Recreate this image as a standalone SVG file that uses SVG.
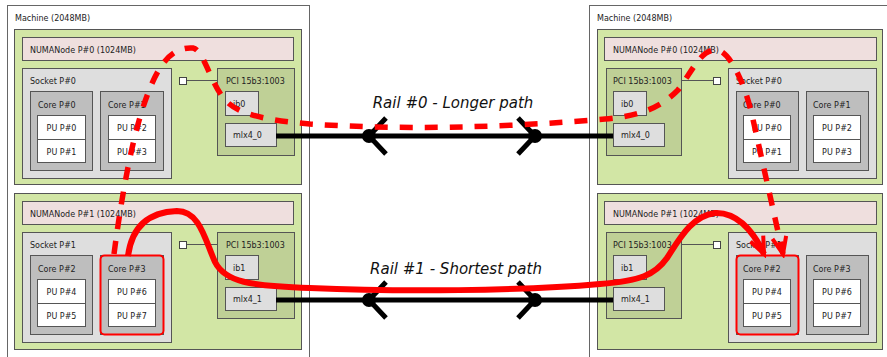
<svg xmlns="http://www.w3.org/2000/svg" width="887" height="357" viewBox="0 0 887 357">
<style>
text{font-family:"DejaVu Sans","Liberation Sans",sans-serif;font-size:8px;fill:#222}
.c{text-anchor:middle}
.mach{fill:#fff;stroke:#666;stroke-width:1}
.numa{fill:#d2e6a5;stroke:#555;stroke-width:1}
.mem{fill:#efdfde;stroke:#555;stroke-width:1}
.sock{fill:#dedede;stroke:#555;stroke-width:1}
.core{fill:#bebebe;stroke:#555;stroke-width:1}
.pu{fill:#fff;stroke:#555;stroke-width:1}
.pci{fill:#bfd096;stroke:#555;stroke-width:1}
.os{fill:#dedede;stroke:#555;stroke-width:1}
.sq{fill:#fff;stroke:#444;stroke-width:1}
.lk{stroke:#555;stroke-width:1}
.hl{fill:none;stroke:#ff0000;stroke-width:2}
.rail{stroke:#000;stroke-width:5;fill:none}
.arm{stroke:#000;stroke-width:5;fill:none}
.lbl{font-size:15px;font-style:italic;fill:#111;text-anchor:middle}
.dash{fill:none;stroke:#ff0000;stroke-width:5.5;stroke-dasharray:13 12;marker-end:url(#ah)}
.solid{fill:none;stroke:#ff0000;stroke-width:6;marker-end:url(#ah)}
</style>
<defs>
<marker id="ah" markerUnits="userSpaceOnUse" viewBox="-20 -12 24 24" markerWidth="24" markerHeight="24" refX="0" refY="0" orient="auto">
<path d="M-17,-7 L0,0 L-17,7" fill="none" stroke="#ff0000" stroke-width="4" stroke-dasharray="none"/>
</marker>
</defs>

<!-- Left machine -->
<g id="machineL">
<rect class="mach" x="7.5" y="5.5" width="302" height="360"/>
<text x="15" y="21">Machine (2048MB)</text>
</g>
<g id="numaL0">
<rect class="numa" x="14.5" y="29.5" width="287" height="155"/>
<rect class="mem" x="22.5" y="37.5" width="271" height="23"/>
<text x="30" y="53">NUMANode P#0 (1024MB)</text>
</g>
<g id="socketL0">
<rect class="sock" x="22.5" y="68.5" width="149" height="110"/>
<text x="30" y="84">Socket P#0</text>
</g>
<g id="coreL0">
<rect class="core" x="30.5" y="91.5" width="62" height="79"/>
<text x="38" y="108">Core P#0</text>
<rect class="pu" x="37.5" y="115.5" width="48" height="24"/>
<text class="c" x="61.5" y="131">PU P#0</text>
<rect class="pu" x="37.5" y="139.5" width="48" height="23"/>
<text class="c" x="61.5" y="155">PU P#1</text>
</g>
<g id="coreL1">
<rect class="core" x="100.5" y="91.5" width="63" height="79"/>
<text x="108" y="108">Core P#1</text>
<rect class="pu" x="108.5" y="115.5" width="47" height="24"/>
<text class="c" x="132" y="131">PU P#2</text>
<rect class="pu" x="108.5" y="139.5" width="47" height="23"/>
<text class="c" x="132" y="155">PU P#3</text>
</g>
<g id="pciL0">
<line class="lk" x1="186" y1="80.5" x2="217" y2="80.5"/>
<rect class="sq" x="179.5" y="77.5" width="7" height="7"/>
<rect class="pci" x="217.5" y="68.5" width="77" height="87"/>
<text x="226" y="84">PCI 15b3:1003</text>
<rect class="os" x="225.5" y="91.5" width="33" height="24"/>
<text x="233" y="107">ib0</text>
<rect class="os" x="225.5" y="123.5" width="51" height="23"/>
<text x="233" y="138">mlx4_0</text>
</g>

<g id="numaL1">
<rect class="numa" x="14.5" y="193.5" width="287" height="156"/>
<rect class="mem" x="22.5" y="201.5" width="271" height="23"/>
<text x="30" y="217">NUMANode P#1 (1024MB)</text>
</g>
<g id="socketL1">
<rect class="sock" x="22.5" y="232.5" width="149" height="110"/>
<text x="30" y="248">Socket P#1</text>
</g>
<g id="coreL2">
<rect class="core" x="30.5" y="255.5" width="62" height="79"/>
<text x="38" y="272">Core P#2</text>
<rect class="pu" x="37.5" y="279.5" width="48" height="24"/>
<text class="c" x="61.5" y="295">PU P#4</text>
<rect class="pu" x="37.5" y="303.5" width="48" height="23"/>
<text class="c" x="61.5" y="319">PU P#5</text>
</g>
<g id="coreL3">
<rect class="core" x="100.5" y="255.5" width="63" height="79"/>
<text x="108" y="272">Core P#3</text>
<rect class="pu" x="108.5" y="279.5" width="47" height="24"/>
<text class="c" x="132" y="295">PU P#6</text>
<rect class="pu" x="108.5" y="303.5" width="47" height="23"/>
<text class="c" x="132" y="319">PU P#7</text>
<rect class="hl" x="100.5" y="255.5" width="63" height="79" rx="4"/>
</g>
<g id="pciL1">
<line class="lk" x1="186" y1="244.5" x2="217" y2="244.5"/>
<rect class="sq" x="179.5" y="241.5" width="7" height="7"/>
<rect class="pci" x="217.5" y="232.5" width="77" height="86"/>
<text x="226" y="248">PCI 15b3:1003</text>
<rect class="os" x="225.5" y="255.5" width="33" height="24"/>
<text x="233" y="271">ib1</text>
<rect class="os" x="225.5" y="287.5" width="51" height="23"/>
<text x="233" y="302">mlx4_1</text>
</g>

<!-- Right machine -->
<g id="machineR">
<rect class="mach" x="589.5" y="5.5" width="302" height="360"/>
<text x="597" y="21">Machine (2048MB)</text>
</g>
<g id="numaR0">
<rect class="numa" x="597.5" y="29.5" width="285" height="155"/>
<rect class="mem" x="604.5" y="37.5" width="272" height="23"/>
<text x="613" y="53">NUMANode P#0 (1024MB)</text>
</g>
<g id="pciR0">
<line class="lk" x1="681" y1="80.5" x2="713" y2="80.5"/>
<rect class="sq" x="713.5" y="77.5" width="7" height="7"/>
<rect class="pci" x="606.5" y="68.5" width="75" height="87"/>
<text x="613" y="84">PCI 15b3:1003</text>
<rect class="os" x="613.5" y="91.5" width="33" height="24"/>
<text x="621" y="107">ib0</text>
<rect class="os" x="613.5" y="123.5" width="51" height="23"/>
<text x="621" y="138">mlx4_0</text>
</g>
<g id="socketR0">
<rect class="sock" x="728.5" y="68.5" width="148" height="110"/>
<text x="736" y="84">Socket P#0</text>
</g>
<g id="coreR0">
<rect class="core" x="736.5" y="91.5" width="62" height="79"/>
<text x="743" y="108">Core P#0</text>
<rect class="pu" x="743.5" y="115.5" width="47" height="24"/>
<text class="c" x="767" y="131">PU P#0</text>
<rect class="pu" x="743.5" y="139.5" width="47" height="23"/>
<text class="c" x="767" y="155">PU P#1</text>
</g>
<g id="coreR1">
<rect class="core" x="806.5" y="91.5" width="62" height="79"/>
<text x="813" y="108">Core P#1</text>
<rect class="pu" x="813.5" y="115.5" width="47" height="24"/>
<text class="c" x="837" y="131">PU P#2</text>
<rect class="pu" x="813.5" y="139.5" width="47" height="23"/>
<text class="c" x="837" y="155">PU P#3</text>
</g>

<g id="numaR1">
<rect class="numa" x="597.5" y="193.5" width="285" height="156"/>
<rect class="mem" x="604.5" y="201.5" width="272" height="23"/>
<text x="613" y="217">NUMANode P#1 (1024MB)</text>
</g>
<g id="pciR1">
<line class="lk" x1="681" y1="244.5" x2="713" y2="244.5"/>
<rect class="sq" x="713.5" y="241.5" width="7" height="7"/>
<rect class="pci" x="606.5" y="232.5" width="75" height="86"/>
<text x="613" y="248">PCI 15b3:1003</text>
<rect class="os" x="613.5" y="255.5" width="33" height="24"/>
<text x="621" y="271">ib1</text>
<rect class="os" x="613.5" y="287.5" width="51" height="23"/>
<text x="621" y="302">mlx4_1</text>
</g>
<g id="socketR1">
<rect class="sock" x="728.5" y="232.5" width="148" height="110"/>
<text x="736" y="248">Socket P#1</text>
</g>
<g id="coreR2">
<rect class="core" x="736.5" y="255.5" width="62" height="79"/>
<text x="743" y="272">Core P#2</text>
<rect class="pu" x="743.5" y="279.5" width="47" height="24"/>
<text class="c" x="767" y="295">PU P#4</text>
<rect class="pu" x="743.5" y="303.5" width="47" height="23"/>
<text class="c" x="767" y="319">PU P#5</text>
<rect class="hl" x="736.5" y="255.5" width="62" height="79" rx="4"/>
</g>
<g id="coreR3">
<rect class="core" x="806.5" y="255.5" width="62" height="79"/>
<text x="813" y="272">Core P#3</text>
<rect class="pu" x="813.5" y="279.5" width="47" height="24"/>
<text class="c" x="837" y="295">PU P#6</text>
<rect class="pu" x="813.5" y="303.5" width="47" height="23"/>
<text class="c" x="837" y="319">PU P#7</text>
</g>

<!-- Connectors -->
<g id="connectors">
<line class="rail" x1="276" y1="136" x2="613" y2="136"/>
<circle cx="369" cy="136" r="7"/>
<circle cx="535" cy="136" r="7"/>
<path class="arm" d="M386,118 L369,136 L386,154"/>
<path class="arm" d="M518,118 L535,136 L518,154"/>
<text class="lbl" x="453" y="108">Rail #0 - Longer path</text>

<line class="rail" x1="276" y1="300" x2="613" y2="300"/>
<circle cx="369" cy="300" r="7"/>
<circle cx="535" cy="300" r="7"/>
<path class="arm" d="M386,282 L369,300 L386,318"/>
<path class="arm" d="M518,282 L535,300 L518,318"/>
<text class="lbl" x="456" y="274">Rail #1 - Shortest path</text>

<path class="dash" d="M114,254 C125,170 140,100 160,68 C170,52 182,47 193,48 C203,50 210,80 222,96 C232,110 250,119 310,124 C400,130 500,128 605,119 C640,116 660,108 678,90 C692,72 700,50 716,50 C730,50 745,85 752,115 L783,254"/>
<path class="solid" d="M128,256 C132,225 150,212 177,211 C200,211 205,240 215,262 C225,282 250,286 310,288 C400,292 520,291 600,284 C640,281 655,275 667,258 C680,238 692,216 715,213 C735,212 752,228 764,254"/>
</g>
</svg>
